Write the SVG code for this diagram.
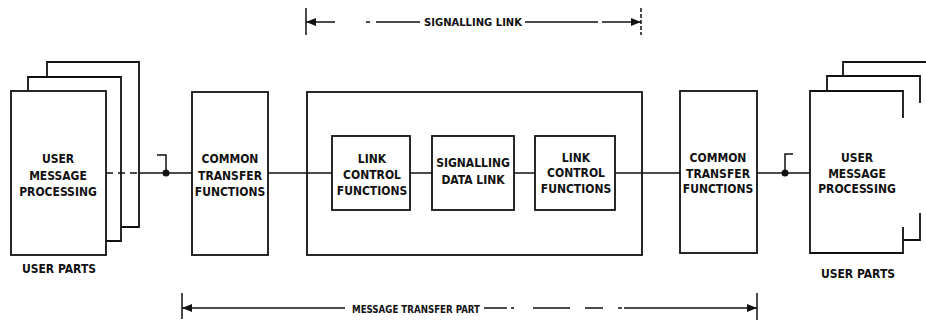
<svg xmlns="http://www.w3.org/2000/svg" width="926" height="320" viewBox="0 0 926 320">
<style>
.b{fill:none;stroke:#111;stroke-width:1.8}
.l{fill:none;stroke:#111;stroke-width:1.5}
text{font-family:"DejaVu Sans Condensed","Liberation Sans Narrow","Liberation Sans",sans-serif;font-stretch:condensed;font-size:12px;font-weight:bold;fill:#111;text-anchor:middle}
.s{font-size:11px}
</style>
<defs>
<marker id="ah" viewBox="0 0 10 8" refX="10" refY="4" markerWidth="10" markerHeight="8" markerUnits="userSpaceOnUse" orient="auto-start-reverse"><path d="M0,0 L10,4 L0,8 Z" fill="#111"/></marker>
</defs>
<rect width="926" height="320" fill="#fff"/>
<g id="user-parts-left">
<path class="b" d="M47,77 V62 H139 V227 H121"/>
<path class="b" d="M28,91 V77 H121 V241 H106"/>
<rect class="b" x="11" y="91" width="95" height="164"/>
<text x="58" y="163">USER</text>
<text x="58" y="180">MESSAGE</text>
<text x="58" y="196">PROCESSING</text>
<text x="59" y="273">USER PARTS</text>
</g>
<g id="ctf-left">
<rect class="b" x="192" y="92" width="76" height="163"/>
<text x="230" y="163">COMMON</text>
<text x="230" y="180">TRANSFER</text>
<text x="230" y="196">FUNCTIONS</text>
</g>
<g id="signalling-link-box">
<rect class="b" x="307" y="92" width="335" height="163"/>
</g>
<g id="lcf-left">
<rect class="b" x="332" y="136" width="78" height="74"/>
<text x="372" y="163">LINK</text>
<text x="372" y="179">CONTROL</text>
<text x="372" y="195">FUNCTIONS</text>
</g>
<g id="sdl">
<rect class="b" x="432" y="136" width="82" height="74"/>
<text x="473" y="167">SIGNALLING</text>
<text x="473" y="184">DATA LINK</text>
</g>
<g id="lcf-right">
<rect class="b" x="535" y="136" width="80" height="74"/>
<text x="576" y="162">LINK</text>
<text x="576" y="177">CONTROL</text>
<text x="576" y="193">FUNCTIONS</text>
</g>
<g id="ctf-right">
<rect class="b" x="680" y="91" width="77" height="162"/>
<text x="718" y="162">COMMON</text>
<text x="718" y="178">TRANSFER</text>
<text x="718" y="193">FUNCTIONS</text>
</g>
<g id="user-parts-right">
<path class="b" d="M843,76 V62 H926"/>
<path class="b" d="M827,91 V76 H920 V103 M920,213 V240 H903"/>
<path class="b" d="M903,118 V91 H810 V253 H903 V227"/>
<text x="857" y="162">USER</text>
<text x="857" y="178">MESSAGE</text>
<text x="857" y="193">PROCESSING</text>
<text x="858" y="278">USER PARTS</text>
</g>
<g id="connectors">
<path class="l" d="M106,173 H139" stroke-dasharray="7,5"/>
<path class="l" d="M139,173 H192"/>
<circle cx="166" cy="173" r="3.5" fill="#111"/>
<path class="l" d="M157,155 H166 V173"/>
<path class="l" d="M268,173 H332"/>
<path class="l" d="M410,173 H432"/>
<path class="l" d="M514,173 H535"/>
<path class="l" d="M615,173 H680"/>
<path class="l" d="M757,173 H810"/>
<circle cx="785" cy="173" r="3.5" fill="#111"/>
<path class="l" d="M785,173 V154 H793"/>
<path class="l" d="M306,8 V35"/>
<path class="l" d="M641,8 V35" stroke-dasharray="4,2"/>
<path class="l" d="M335,22 H306" marker-end="url(#ah)"/>
<path class="l" d="M366,22 H370 M376,22 H420 M525,22 H598"/>
<path class="l" d="M602,22 H641" marker-end="url(#ah)"/>
<text class="s" x="473" y="26" textLength="98" lengthAdjust="spacingAndGlyphs">SIGNALLING LINK</text>
<path class="l" d="M182,293 V319"/>
<path class="l" d="M757,293 V320"/>
<path class="l" d="M345,308 H182" marker-end="url(#ah)"/>
<path class="l" d="M484,308 H507 M511,308 H514 M533,308 H570 M585,308 H603 M618,308 H622"/>
<path class="l" d="M624,308 H757" marker-end="url(#ah)"/>
<text class="s" x="416" y="313" textLength="128" lengthAdjust="spacingAndGlyphs">MESSAGE TRANSFER PART</text>
</g>
</svg>
